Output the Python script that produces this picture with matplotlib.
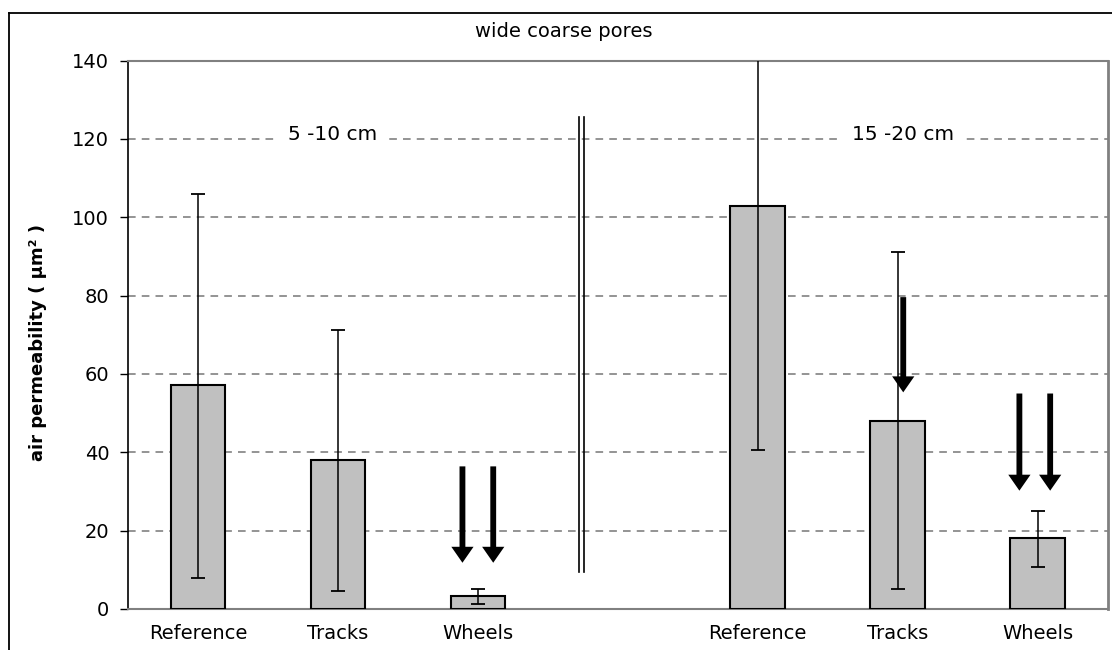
import numpy as np
import matplotlib
matplotlib.use("Agg")
import matplotlib.pyplot as plt
from matplotlib.lines import Line2D

# data (4th slot is the empty gap between depths)
cats = ["Reference", "Tracks", "Wheels", "", "Reference", "Tracks", "Wheels"]
means = [57.2, 38.1, 3.3, np.nan, 102.9, 48.0, 18.2]
err_lo = [8.0, 4.6, 1.3, np.nan, 40.6, 5.0, 10.8]
err_hi = [106.0, 71.3, 5.1, np.nan, 160.0, 91.2, 25.0]

depths = ["5 -10 cm", "15 -20 cm"]
depth_x = [0.96, 5.04]

# down arrows: x in category units, start and tip values
arrow_x = [1.89, 2.11, 5.04, 5.87, 6.09]
arrow_top = [36.4, 36.4, 79.6, 55.0, 55.0]
arrow_tip = [11.8, 11.8, 55.3, 30.2, 30.2]

plt.rcParams['font.family'] = ['DejaVu Sans']

fig = plt.figure(figsize=(11.12, 6.5), dpi=100)
ax = fig.add_axes([0.1151, 0.0631, 0.8809, 0.8438])

x = np.arange(len(cats))
m = np.array(means)
lo = m - np.array(err_lo)
hi = np.array(err_hi) - m

ax.bar(x, m, width=0.39, color='#c0c0c0', edgecolor='black', linewidth=1.5, zorder=3)
ax.errorbar(x, m, yerr=[lo, hi], fmt='none', ecolor='black', elinewidth=1.1,
            capsize=5, capthick=1.3, zorder=4)

ax.set_xlim(-0.5, 6.5)
ax.set_ylim(0, 140)
ax.set_yticks(np.arange(0, 141, 20))
ax.set_xticks([i for i, c in enumerate(cats) if c])
ax.set_xticklabels([c for c in cats if c], fontsize=14)
ax.tick_params(axis='x', length=0, pad=11)
ax.tick_params(axis='y', direction='out', length=5.5, width=1, labelsize=14, pad=8)

ax.yaxis.grid(True, linestyle=(0, (5, 4)), color='#777777', linewidth=1.1, zorder=0)
ax.set_axisbelow(True)

for s in ['top', 'right', 'bottom']:
    ax.spines[s].set_color('#808080')
ax.spines['right'].set_linewidth(2)
ax.spines['top'].set_linewidth(1.5)
ax.spines['bottom'].set_linewidth(1.5)
ax.spines['left'].set_color('black')
ax.spines['left'].set_linewidth(1.2)

ax.set_ylabel("air permeability ( µm² )", fontsize=13, fontweight='bold')
ax.yaxis.set_label_coords(-0.0827, 0.486)

# separator between the two depths
for xs in [2.725, 2.76]:
    ax.plot([xs, xs], [9.5, 125.7], color='black', linewidth=1.2, zorder=5)

for lab, xd in zip(depths, depth_x):
    ax.text(xd, 119.7, lab, ha='center', va='baseline', fontsize=14.5, zorder=6,
            bbox=dict(facecolor='white', edgecolor='none', pad=8))

for xa, t0, t1 in zip(arrow_x, arrow_top, arrow_tip):
    ax.annotate('', xy=(xa, t1), xytext=(xa, t0),
                arrowprops=dict(arrowstyle='simple,head_length=1.15,head_width=1.6,tail_width=0.42',
                                fc='black', ec='none', shrinkA=0, shrinkB=0,
                                mutation_scale=10), zorder=6)

fig.text(564 / 1112, 1 - 31.7 / 650, "wide coarse pores", ha='center', va='center', fontsize=14)

# outer chart frame (right and bottom edges fall outside the picture)
fig.add_artist(Line2D([9 / 1112, 1.0], [1 - 13 / 650] * 2, color='black', linewidth=1.3,
                      transform=fig.transFigure))
fig.add_artist(Line2D([9 / 1112] * 2, [0.0, 1 - 13 / 650], color='black', linewidth=1.3,
                      transform=fig.transFigure))

fig.savefig("out.png", dpi=100)
